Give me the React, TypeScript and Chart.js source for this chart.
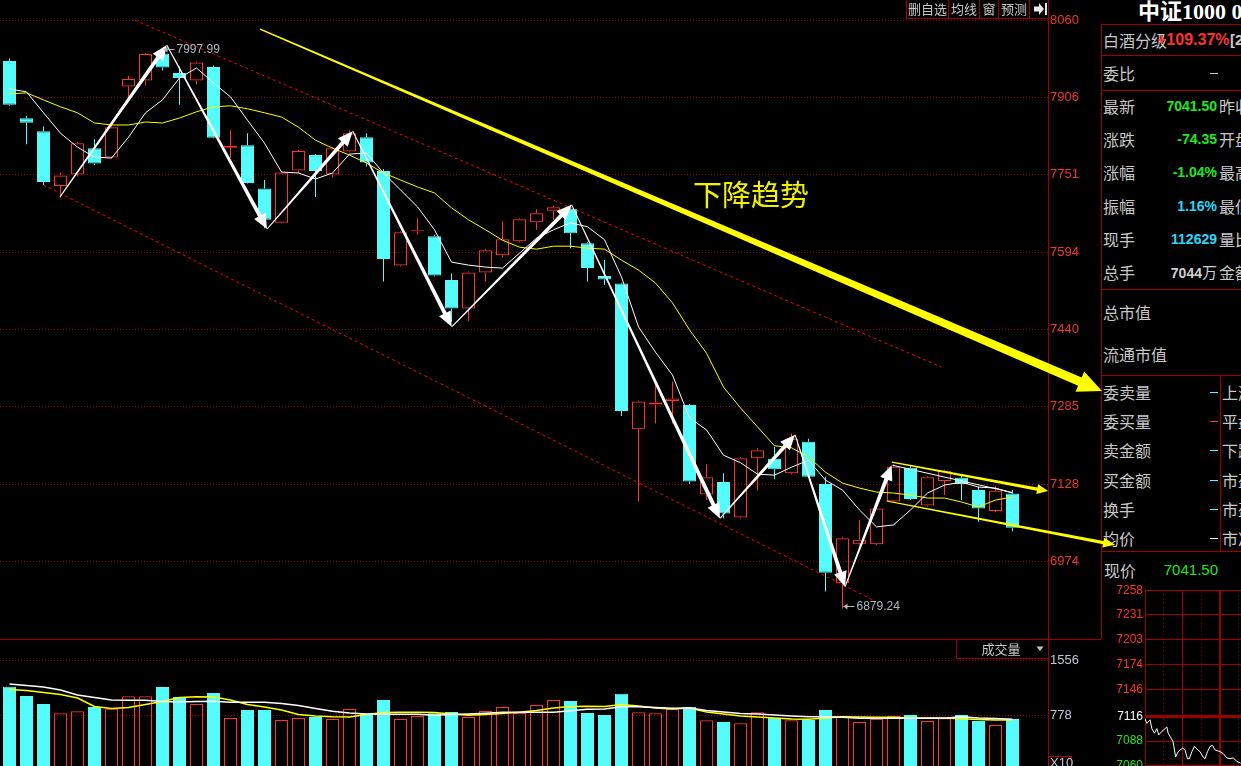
import React, { useEffect, useRef } from 'react';
import { Chart, registerables } from 'chart.js';

Chart.register(...registerables);

// ---------------- data ----------------
const OPEN = [7979, 7864, 7838, 7728, 7751, 7804, 7785, 7928, 7940, 7994, 7955, 7940, 7967, 7805, 7810, 7723, 7654, 7759, 7790, 7751, 7797, 7826, 7758, 7568, 7637, 7627, 7539, 7482, 7554, 7589, 7617, 7655, 7678, 7682, 7613, 7547, 7532, 7239, 7289, 7296, 7288, 7108, 7133, 7062, 7181, 7180, 7151, 7214, 7129, 6930, 7008, 7008, 7094, 7162, 7086, 7135, 7142, 7117, 7075, 7110];
const HIGH = [7984, 7869, 7848, 7755, 7816, 7822, 7848, 7949, 7995, 7997.99, 7968, 7978, 7970, 7840, 7834, 7740, 7757, 7800, 7792, 7806, 7840, 7834, 7762, 7637, 7663, 7630, 7552, 7556, 7601, 7658, 7663, 7681, 7688, 7690, 7615, 7579, 7534, 7297, 7328, 7335, 7290, 7169, 7151, 7183, 7201, 7204, 7231, 7220, 7144, 7022, 7057, 7082, 7169, 7165, 7145, 7158, 7149, 7124, 7125, 7117];
const LOW = [7889, 7812, 7730, 7705, 7747, 7770, 7783, 7907, 7930, 7960, 7891, 7932, 7824, 7784, 7733, 7643, 7653, 7753, 7706, 7745, 7795, 7767, 7536, 7566, 7630, 7546, 7455, 7457, 7536, 7585, 7615, 7640, 7660, 7603, 7536, 7529, 7266, 7094, 7251, 7251, 7129, 7097, 7060, 7060, 7116, 7139, 7149, 7142, 6913, 6879.24, 7006, 7006, 7092, 7097, 7084, 7107, 7097, 7053.5, 7073, 7034.5];
const CLOSE = [7891, 7855, 7736, 7749, 7814, 7773, 7846, 7943, 7993, 7966, 7945, 7976, 7825, 7809, 7734, 7660, 7755, 7798, 7758, 7804, 7834, 7775, 7581, 7635, 7639, 7548, 7482, 7554, 7599, 7621, 7661, 7673, 7685, 7633, 7563, 7540, 7276, 7295, 7293, 7301, 7134, 7143, 7070, 7181, 7197, 7159, 7220, 7144, 6951, 7020, 7017, 7080, 7164, 7099, 7143, 7156, 7129, 7080, 7115.85, 7041.5];
const MA5 = [7923, 7917, 7875, 7834, 7806, 7786, 7784, 7826, 7875, 7901, 7945, 7965, 7935, 7907, 7860, 7814, 7756, 7754, 7742, 7754, 7792, 7794, 7754, 7720, 7686, 7640, 7575, 7569, 7565, 7563, 7593, 7623, 7640, 7654, 7646, 7620, 7545, 7445, 7394, 7348, 7262, 7238, 7187, 7172, 7149, 7147, 7163, 7177, 7137, 7117, 7077, 7043, 7047, 7077, 7111, 7127, 7133, 7123, 7121, 7111];
const MA10 = [7913, 7915, 7901, 7887, 7875, 7854.5, 7850.5, 7850.5, 7856.5, 7854.5, 7864.5, 7877, 7887, 7889, 7883, 7875, 7866.5, 7846, 7820, 7804, 7790, 7774, 7754, 7740, 7726, 7714, 7684, 7660, 7640, 7619, 7605, 7601, 7607, 7607, 7603, 7601, 7579, 7559, 7533, 7493, 7439, 7392, 7324, 7282, 7244, 7206, 7202, 7183.5, 7153, 7131, 7121, 7113, 7111, 7107, 7101, 7101, 7093, 7083, 7097, 7103];
const VOLUME = [1182, 1051, 938, 806, 835, 895, 871, 1047, 1047, 1178, 1037, 938, 1093, 740, 853, 853, 711, 740, 754, 726, 867, 806, 994, 726, 768, 806, 825, 754, 839, 895, 810, 924, 994, 980, 810, 782, 1083, 820, 806, 867, 900, 707, 683, 665, 820, 744, 707, 711, 853, 772, 683, 726, 772, 782, 697, 736, 782, 697, 641, 726];
const VOL_MA5 = [1143, 1129, 1100, 1072, 1023, 902, 874, 888, 931, 973, 1030, 1041, 1037, 994, 931, 895, 853, 789, 768, 758, 754, 789, 818, 820, 820, 818, 796, 778, 789, 803, 820, 846, 881, 902, 907, 902, 931, 910, 881, 867, 881, 825, 796, 768, 754, 740, 726, 721, 740, 758, 754, 750, 750, 740, 740, 740, 730, 719, 711, 711];
const VOL_MA10 = [1221, 1199, 1178, 1136, 1065, 1030, 994, 990, 990, 973, 966, 973, 976, 962, 962, 962, 945, 917, 874, 835, 810, 796, 792, 792, 792, 778, 789, 796, 806, 820, 820, 820, 820, 843, 863, 867, 900, 900, 888, 877, 881, 846, 825, 803, 796, 782, 768, 758, 758, 750, 736, 736, 736, 736, 736, 736, 758, 740, 733, 721];

const PRICE_TICKS = [6974, 7128, 7285, 7440, 7594, 7751, 7906, 8060];
const VOLUME_TICKS = [778, 1556];

const INTRADAY_MINUTES = [0, 3, 8, 11, 15, 19, 22, 27, 32, 35, 37, 42, 45, 49, 53, 60, 64, 68, 71, 75, 79, 83, 88, 93, 96, 100, 104, 108, 112, 120, 125, 131, 136, 141, 147, 153];
const INTRADAY_PRICES = [7113, 7108, 7112, 7102, 7097, 7102, 7095, 7099, 7102, 7104, 7097, 7091, 7087, 7070, 7076, 7080, 7078, 7068, 7068, 7076, 7082, 7079, 7076, 7070, 7068, 7076, 7082, 7083, 7078, 7076, 7074, 7069, 7068, 7069, 7065, 7063];
const INTRADAY_TICKS = [7060, 7088, 7116, 7146, 7174, 7203, 7231, 7258];
const INTRADAY_GRID_MINUTES = [0, 30, 60, 90, 120, 150];
const PREV_CLOSE_TICK = 7116;

// drawn annotations, in (day index, price) units
const HIGH_MARK = { index: 9, value: 7997.99, text: '7997.99' };
const LOW_MARK = { index: 49, value: 6879.24, text: '6879.24' };
const ZIGZAG = [[2.97, 7706], [9.25, 8011], [15.15, 7641.5], [20.19, 7838], [26.01, 7445], [33.07, 7690], [41.79, 7060], [46.21, 7228], [49.15, 6923], [51.89, 7167]];
const UPPER_CHANNEL = [[7.38, 8061], [54.83, 7364]];
const LOWER_CHANNEL = [[1.99, 7730], [50.81, 6896]];
const TREND_ARROW = [[14.74, 8043], [64.26, 7316]];
const FLAG_UPPER = [[51.91, 7173], [61.09, 7115]];
const FLAG_LOWER = [[51.6, 7095], [65.03, 7007]];
const FLAG_TOP_LINE = [[51.93, 7167], [59.0, 7112]];
const TREND_TEXT = { text: '下降趋势', index: 40.2, value: 7710 };

// ---------------- styles ----------------
const RED = '#ff3232';
const CYAN = '#54fcfc';
const GRID = '#960000';
const FRAME = '#a00000';
const GREEN = '#22e622';
const VCYAN = '#2ad8f8';
const LABEL = '#c8c8c8';
const CJK = '"Noto Sans CJK SC", sans-serif';
const NUM = '"Liberation Sans", Arial, sans-serif';

const X_MIN = -0.5588;
const X_MAX = 61.088;

const isUp = (i: number) => CLOSE[i] >= OPEN[i];
const colorOf = (i: number) => (isUp(i) ? RED : CYAN);

function taperArrow(ctx: CanvasRenderingContext2D, a: number[], b: number[], w1: number, w2: number, headLen: number, headHalf: number) {
  const dx = b[0] - a[0];
  const dy = b[1] - a[1];
  const L = Math.hypot(dx, dy);
  const ux = dx / L, uy = dy / L;
  const px = -uy, py = ux;
  const bx = b[0] - ux * headLen, by = b[1] - uy * headLen;
  ctx.beginPath();
  ctx.moveTo(a[0] + px * w1 / 2, a[1] + py * w1 / 2);
  ctx.lineTo(bx + px * w2 / 2, by + py * w2 / 2);
  ctx.lineTo(bx + px * headHalf, by + py * headHalf);
  ctx.lineTo(b[0], b[1]);
  ctx.lineTo(bx - px * headHalf, by - py * headHalf);
  ctx.lineTo(bx - px * w2 / 2, by - py * w2 / 2);
  ctx.lineTo(a[0] - px * w1 / 2, a[1] - py * w1 / 2);
  ctx.closePath();
  ctx.fill();
}

function extremeLabel(ctx: CanvasRenderingContext2D, x: number, y: number, text: string) {
  const yy = Math.round(y - 2.5) + 0.5;
  ctx.strokeStyle = '#b4b8c4';
  ctx.fillStyle = '#b4b8c4';
  ctx.lineWidth = 1;
  ctx.beginPath();
  ctx.moveTo(x + 1, yy);
  ctx.lineTo(x + 12, yy);
  ctx.stroke();
  ctx.beginPath();
  ctx.moveTo(x + 1, yy);
  ctx.lineTo(x + 5, yy - 3);
  ctx.lineTo(x + 5, yy + 3);
  ctx.closePath();
  ctx.fill();
  ctx.font = `12px ${NUM}`;
  ctx.textAlign = 'left';
  ctx.textBaseline = 'middle';
  ctx.fillText(text, x + 14, yy);
}

const annotationPlugin = {
  id: 'annotations',
  afterDatasetsDraw(chart: any) {
    const ctx: CanvasRenderingContext2D = chart.ctx;
    const xs = chart.scales.x;
    const ys = chart.scales.y;
    const P = (p: number[]) => [xs.getPixelForValue(p[0]), ys.getPixelForValue(p[1])];
    ctx.save();
    // channel lines
    ctx.strokeStyle = '#ff0000';
    ctx.lineWidth = 1;
    ctx.setLineDash([3, 3]);
    for (const line of [UPPER_CHANNEL, LOWER_CHANNEL]) {
      const a = P(line[0]);
      const b = P(line[1]);
      ctx.beginPath();
      ctx.moveTo(a[0], a[1]);
      ctx.lineTo(b[0], b[1]);
      ctx.stroke();
    }
    ctx.setLineDash([]);
    // thin white flag line
    {
      const a = P(FLAG_TOP_LINE[0]);
      const b = P(FLAG_TOP_LINE[1]);
      ctx.strokeStyle = '#ffffff';
      ctx.lineWidth = 1;
      ctx.beginPath();
      ctx.moveTo(a[0], a[1]);
      ctx.lineTo(b[0], b[1]);
      ctx.stroke();
    }
    // zigzag arrows
    ctx.fillStyle = '#ffffff';
    for (let k = 0; k < ZIGZAG.length - 1; k++) {
      taperArrow(ctx, P(ZIGZAG[k]), P(ZIGZAG[k + 1]), 1, 4, 15, 6.5);
    }
    // yellow arrows
    ctx.fillStyle = '#ffff00';
    taperArrow(ctx, P(TREND_ARROW[0]), P(TREND_ARROW[1]), 1.5, 9, 24, 11);
    taperArrow(ctx, P(FLAG_UPPER[0]), P(FLAG_UPPER[1]), 1.2, 3.2, 11, 5);
    taperArrow(ctx, P(FLAG_LOWER[0]), P(FLAG_LOWER[1]), 1.2, 3.2, 12, 5);
    // trend text
    const t = P([TREND_TEXT.index, TREND_TEXT.value]);
    ctx.fillStyle = '#f0f000';
    ctx.font = `29px ${CJK}`;
    ctx.textAlign = 'left';
    ctx.textBaseline = 'middle';
    ctx.fillText(TREND_TEXT.text, t[0], t[1]);
    // extreme labels
    const h = P([HIGH_MARK.index, HIGH_MARK.value]);
    extremeLabel(ctx, h[0], h[1], HIGH_MARK.text);
    const l = P([LOW_MARK.index, LOW_MARK.value]);
    extremeLabel(ctx, l[0], l[1], LOW_MARK.text);
    ctx.restore();
  },
};

const volumeDecor = {
  id: 'volumeDecor',
  afterDraw(chart: any) {
    const ctx: CanvasRenderingContext2D = chart.ctx;
    ctx.save();
    ctx.strokeStyle = FRAME;
    ctx.lineWidth = 1;
    ctx.beginPath();
    ctx.moveTo(0, 0.5);
    ctx.lineTo(1101, 0.5);
    ctx.stroke();
    ctx.strokeRect(956.5, 0.5, 92, 19);
    ctx.fillStyle = LABEL;
    ctx.font = `13px ${CJK}`;
    ctx.textAlign = 'center';
    ctx.textBaseline = 'middle';
    ctx.fillText('成交量', 1001, 10.5);
    ctx.beginPath();
    ctx.moveTo(1036.5, 7.5);
    ctx.lineTo(1043.5, 7.5);
    ctx.lineTo(1040, 12);
    ctx.closePath();
    ctx.fill();
    ctx.strokeStyle = '#c00000';
    ctx.strokeRect(1048.5, 117.5, 23, 20);
    ctx.fillStyle = '#c0c8d8';
    ctx.font = `13px ${NUM}`;
    ctx.textAlign = 'left';
    ctx.fillText('X10', 1050, 124);
    ctx.restore();
  },
};

function PriceChart() {
  const ref = useRef<HTMLCanvasElement>(null);
  useEffect(() => {
    const idx = OPEN.map((_, i) => i);
    const chart = new Chart(ref.current as HTMLCanvasElement, {
      type: 'bar',
      data: {
        datasets: [
          {
            type: 'bar',
            label: 'upper wick',
            data: idx.map((i) => ({ x: i, y: [Math.max(OPEN[i], CLOSE[i]), HIGH[i]] })),
            backgroundColor: idx.map(colorOf),
            borderWidth: 0,
            barThickness: 1,
            grouped: false,
            inflateAmount: 0,
            order: 5,
          } as any,
          {
            type: 'bar',
            label: 'lower wick',
            data: idx.map((i) => ({ x: i, y: [LOW[i], Math.min(OPEN[i], CLOSE[i])] })),
            backgroundColor: idx.map(colorOf),
            borderWidth: 0,
            barThickness: 1,
            grouped: false,
            inflateAmount: 0,
            order: 5,
          } as any,
          {
            type: 'bar',
            label: 'body',
            data: idx.map((i) => ({ x: i, y: [OPEN[i], CLOSE[i]] })),
            backgroundColor: idx.map((i) => (isUp(i) ? 'rgba(0,0,0,0)' : CYAN)),
            borderColor: idx.map(colorOf),
            borderWidth: 1,
            borderSkipped: false,
            barThickness: 13,
            grouped: false,
            inflateAmount: 0,
            order: 4,
          } as any,
          {
            type: 'line',
            label: 'MA10',
            data: idx.map((i) => ({ x: i, y: MA10[i] })),
            borderColor: '#ffff00',
            borderWidth: 1,
            pointRadius: 0,
            tension: 0,
            order: 2,
          } as any,
          {
            type: 'line',
            label: 'MA5',
            data: idx.map((i) => ({ x: i, y: MA5[i] })),
            borderColor: '#ffffff',
            borderWidth: 1,
            pointRadius: 0,
            tension: 0,
            order: 1,
          } as any,
        ],
      },
      options: {
        responsive: false,
        animation: false,
        events: [],
        layout: { padding: { left: 0, top: 0, bottom: 0, right: 19 } },
        plugins: { legend: { display: false }, tooltip: { enabled: false } },
        scales: {
          x: { type: 'linear', min: X_MIN, max: X_MAX, display: false, offset: false },
          y: {
            type: 'linear',
            position: 'right',
            min: 6817.8,
            max: 8101.6,
            afterBuildTicks: (s: any) => {
              s.ticks = PRICE_TICKS.map((v) => ({ value: v }));
            },
            afterFit: (s: any) => {
              s.width = 53;
              s.paddingTop = 0;
              s.paddingBottom = 0;
            },
            ticks: {
              color: '#f03434',
              font: { family: NUM, size: 13 },
              padding: 2,
              callback: (v: any) => String(v),
            },
            grid: { color: GRID, lineWidth: 1, drawTicks: false },
            border: { display: true, color: FRAME, width: 1, dash: [1, 2] },
          },
        },
      } as any,
      plugins: [annotationPlugin],
    });
    return () => chart.destroy();
  }, []);
  return <canvas ref={ref} width={1120} height={639} style={{ position: 'absolute', left: 0, top: 0, zIndex: 2 }} />;
}

function VolumeChart() {
  const ref = useRef<HTMLCanvasElement>(null);
  useEffect(() => {
    const idx = VOLUME.map((_, i) => i);
    const chart = new Chart(ref.current as HTMLCanvasElement, {
      type: 'bar',
      data: {
        datasets: [
          {
            type: 'bar',
            label: 'volume',
            data: idx.map((i) => ({ x: i, y: VOLUME[i] })),
            backgroundColor: idx.map((i) => (isUp(i) ? 'rgba(0,0,0,0)' : CYAN)),
            borderColor: idx.map(colorOf),
            borderWidth: 1,
            borderSkipped: false,
            barThickness: 13,
            grouped: false,
            inflateAmount: 0,
            order: 3,
          } as any,
          {
            type: 'line',
            label: 'VMA5',
            data: idx.map((i) => ({ x: i, y: VOL_MA5[i] })),
            borderColor: '#ffff00',
            borderWidth: 1.5,
            pointRadius: 0,
            order: 2,
          } as any,
          {
            type: 'line',
            label: 'VMA10',
            data: idx.map((i) => ({ x: i, y: VOL_MA10[i] })),
            borderColor: '#ffffff',
            borderWidth: 1.5,
            pointRadius: 0,
            order: 1,
          } as any,
        ],
      },
      options: {
        responsive: false,
        animation: false,
        events: [],
        layout: { padding: 0 },
        plugins: { legend: { display: false }, tooltip: { enabled: false } },
        scales: {
          x: { type: 'linear', min: X_MIN, max: X_MAX, display: false, offset: false },
          y: {
            type: 'linear',
            position: 'right',
            min: 61,
            max: 1857,
            afterBuildTicks: (s: any) => {
              s.ticks = VOLUME_TICKS.map((v) => ({ value: v }));
            },
            afterFit: (s: any) => {
              s.width = 53;
              s.paddingTop = 0;
              s.paddingBottom = 0;
            },
            ticks: {
              color: '#c0c8d8',
              font: { family: NUM, size: 13 },
              padding: 2,
              callback: (v: any) => String(v),
            },
            grid: { color: GRID, lineWidth: 1, drawTicks: false },
            border: { display: true, color: FRAME, width: 1, dash: [1, 2] },
          },
        },
      } as any,
      plugins: [volumeDecor],
    });
    return () => chart.destroy();
  }, []);
  return <canvas ref={ref} width={1101} height={127} style={{ position: 'absolute', left: 0, top: 639, zIndex: 2 }} />;
}

function MiniChart() {
  const ref = useRef<HTMLCanvasElement>(null);
  useEffect(() => {
    const chart = new Chart(ref.current as HTMLCanvasElement, {
      type: 'line',
      data: {
        datasets: [
          {
            label: 'intraday',
            data: INTRADAY_MINUTES.map((m, i) => ({ x: m, y: INTRADAY_PRICES[i] })),
            borderColor: '#ffffff',
            borderWidth: 1,
            pointRadius: 0,
            tension: 0,
          },
        ],
      },
      options: {
        responsive: false,
        animation: false,
        events: [],
        layout: { padding: { top: 10.7, left: 0, right: 0, bottom: 0 } },
        plugins: { legend: { display: false }, tooltip: { enabled: false } },
        scales: {
          x: {
            type: 'linear',
            min: 0,
            max: 153.6,
            afterBuildTicks: (s: any) => {
              s.ticks = INTRADAY_GRID_MINUTES.map((v) => ({ value: v }));
            },
            afterFit: (s: any) => {
              s.height = 0;
              s.paddingLeft = 0;
              s.paddingRight = 0;
            },
            ticks: { display: false },
            grid: {
              color: FRAME,
              drawTicks: false,
              lineWidth: (c: any) => (c.tick && c.tick.value === 120 ? 2 : 1),
            },
            border: {
              display: false,
              dash: (c: any) => (c.tick && c.tick.value % 60 === 30 ? [1, 3] : []),
            },
          },
          y: {
            type: 'linear',
            position: 'left',
            min: 7059.8,
            max: 7258,
            afterBuildTicks: (s: any) => {
              s.ticks = INTRADAY_TICKS.map((v) => ({ value: v }));
            },
            afterFit: (s: any) => {
              s.width = 44;
              s.paddingTop = 0;
              s.paddingBottom = 0;
            },
            ticks: {
              color: (c: any) =>
                c.tick.value > PREV_CLOSE_TICK ? '#ff3030' : c.tick.value === PREV_CLOSE_TICK ? '#ffffff' : '#22e622',
              font: { family: NUM, size: 12 },
              padding: 2,
              callback: (v: any) => String(v),
            },
            grid: {
              color: (c: any) => (c.tick && c.tick.value === PREV_CLOSE_TICK ? '#9a0000' : FRAME),
              lineWidth: (c: any) => (c.tick && c.tick.value === PREV_CLOSE_TICK ? 3 : 1),
              drawTicks: false,
            },
            border: { display: true, color: FRAME, width: 1 },
          },
        },
      } as any,
    });
    return () => chart.destroy();
  }, []);
  return <canvas ref={ref} width={140} height={186} style={{ position: 'absolute', left: 1101, top: 580, zIndex: 1 }} />;
}

// ---------------- side panel ----------------
type TextProps = { x: number; y: number; text: string; color?: string; size?: number; font?: string; weight?: number; right?: boolean; h?: number };
function Txt({ x, y, text, color = LABEL, size = 16, font = CJK, weight = 400, right = false, h = 22 }: TextProps) {
  const style: React.CSSProperties = {
    position: 'absolute',
    top: y - h / 2,
    height: h,
    lineHeight: `${h}px`,
    fontSize: size,
    fontFamily: font,
    fontWeight: weight,
    color,
    whiteSpace: 'nowrap',
  };
  if (right) {
    style.left = x - 120;
    style.width = 120;
    style.textAlign = 'right';
  } else {
    style.left = x;
  }
  return <div style={style}>{text}</div>;
}

const QUOTE_ROWS = [
  { label: '最新', value: '7041.50', color: GREEN, side: '昨收' },
  { label: '涨跌', value: '-74.35', color: GREEN, side: '开盘' },
  { label: '涨幅', value: '-1.04%', color: GREEN, side: '最高' },
  { label: '振幅', value: '1.16%', color: VCYAN, side: '最低' },
  { label: '现手', value: '112629', color: VCYAN, side: '量比' },
];
const ORDER_ROWS = [
  { label: '委卖量', mark: CYAN, side: '上涨家数' },
  { label: '委买量', mark: RED, side: '平盘家数' },
  { label: '卖金额', mark: CYAN, side: '下跌家数' },
  { label: '买金额', mark: CYAN, side: '市盈(静)' },
  { label: '换手', mark: CYAN, side: '市盈(动)' },
  { label: '均价', mark: '#ffffff', side: '市净率' },
];
const TOOLBAR = [
  { text: '删自选', w: 42 },
  { text: '均线', w: 31 },
  { text: '窗', w: 19 },
  { text: '预测', w: 31 },
];

function hLine(y: number, x1: number, x2: number, key: string, color = FRAME) {
  return <div key={key} style={{ position: 'absolute', left: x1, top: y, width: x2 - x1, height: 1, background: color }} />;
}
function vLine(x: number, y1: number, y2: number, key: string, color = FRAME) {
  return <div key={key} style={{ position: 'absolute', left: x, top: y1, width: 1, height: y2 - y1, background: color }} />;
}

function SidePanel() {
  const lines = [
    hLine(24, 1101, 1241, 'h1'),
    hLine(55, 1101, 1241, 'h2'),
    hLine(90, 1101, 1241, 'h3'),
    hLine(289, 1101, 1241, 'h4'),
    hLine(375, 1101, 1241, 'h5'),
    hLine(551, 1101, 1241, 'h6'),
    vLine(1101, 24, 639, 'v1'),
    vLine(1220, 375, 551, 'v2'),
  ];
  return (
    <div style={{ position: 'absolute', left: 0, top: 0, width: 1241, height: 766, zIndex: 1 }}>
      {lines}
      <Txt x={1138} y={12} text="中证1000 000852" color="#ffffff" size={22} weight={700} font={'"Liberation Serif", "Noto Sans CJK SC", serif'} h={24} />
      <Txt x={1103} y={40} text="白酒分级" />
      <Txt x={1157} y={40} text="+109.37%" color={RED} size={16} font={NUM} weight={700} />
      <Txt x={1230} y={40} text="[2" color={LABEL} size={15} font={NUM} weight={700} />
      <Txt x={1103} y={73} text="委比" />
      <div style={{ position: 'absolute', left: 1210, top: 73, width: 8, height: 1, background: LABEL }} />
      {QUOTE_ROWS.map((r, k) => {
        const y = 106 + k * 33.2;
        return (
          <React.Fragment key={r.label}>
            <Txt x={1103} y={y} text={r.label} />
            <Txt x={1217} y={y} text={r.value} color={r.color} size={14} font={NUM} weight={700} right />
            <Txt x={1219} y={y} text={r.side} />
          </React.Fragment>
        );
      })}
      <Txt x={1103} y={272} text="总手" />
      <div style={{ position: 'absolute', left: 1097, width: 120, top: 261, height: 22, lineHeight: '22px', textAlign: 'right', whiteSpace: 'nowrap' }}>
        <span style={{ fontFamily: NUM, fontWeight: 700, fontSize: 14, color: '#d0d0d0' }}>7044</span>
        <span style={{ fontFamily: CJK, fontSize: 15, color: '#d0d0d0' }}>万</span>
      </div>
      <Txt x={1219} y={272} text="金额" />
      <Txt x={1103} y={312} text="总市值" />
      <Txt x={1103} y={354} text="流通市值" />
      {ORDER_ROWS.map((r, k) => {
        const y = 392 + k * 29.2;
        return (
          <React.Fragment key={r.label}>
            <Txt x={1103} y={y} text={r.label} />
            <div style={{ position: 'absolute', left: 1210, top: Math.round(y), width: 8, height: 1, background: r.mark }} />
            <Txt x={1222} y={y} text={r.side} />
          </React.Fragment>
        );
      })}
      <Txt x={1104} y={570} text="现价" />
      <Txt x={1218} y={570} text="7041.50" color={GREEN} size={15} font={NUM} right />
    </div>
  );
}

function Toolbar() {
  let x = 906;
  const boxes = TOOLBAR.map((b) => {
    const el = (
      <div
        key={b.text}
        style={{
          position: 'absolute',
          left: x,
          top: 0,
          width: b.w,
          height: 19,
          boxSizing: 'border-box',
          borderLeft: `1px solid ${FRAME}`,
          borderBottom: `1px solid ${FRAME}`,
          color: LABEL,
          fontFamily: CJK,
          fontSize: 13,
          lineHeight: '18px',
          textAlign: 'center',
          whiteSpace: 'nowrap',
          overflow: 'hidden',
        }}
      >
        {b.text}
      </div>
    );
    x += b.w;
    return el;
  });
  return (
    <div style={{ position: 'absolute', left: 0, top: 0, zIndex: 3 }}>
      {boxes}
      <div
        style={{
          position: 'absolute',
          left: x,
          top: 0,
          width: 1048 - x,
          height: 19,
          boxSizing: 'border-box',
          borderLeft: `1px solid ${FRAME}`,
          borderBottom: `1px solid ${FRAME}`,
        }}
      >
        <svg width={18} height={18} style={{ position: 'absolute', left: 1, top: 0 }}>
          <polygon points="3,6.5 8,6.5 8,3 13,9 8,15 8,11.5 3,11.5" fill="#e8e8e8" />
          <rect x={14} y={3} width={2} height={12} fill="#e8e8e8" />
        </svg>
      </div>
    </div>
  );
}

export default function App() {
  return (
    <div style={{ position: 'relative', width: 1241, height: 766, background: '#000', overflow: 'hidden' }}>
      <style>{'html,body{margin:0;padding:0;background:#000;}'}</style>
      <SidePanel />
      <MiniChart />
      <PriceChart />
      <VolumeChart />
      <Toolbar />
    </div>
  );
}
